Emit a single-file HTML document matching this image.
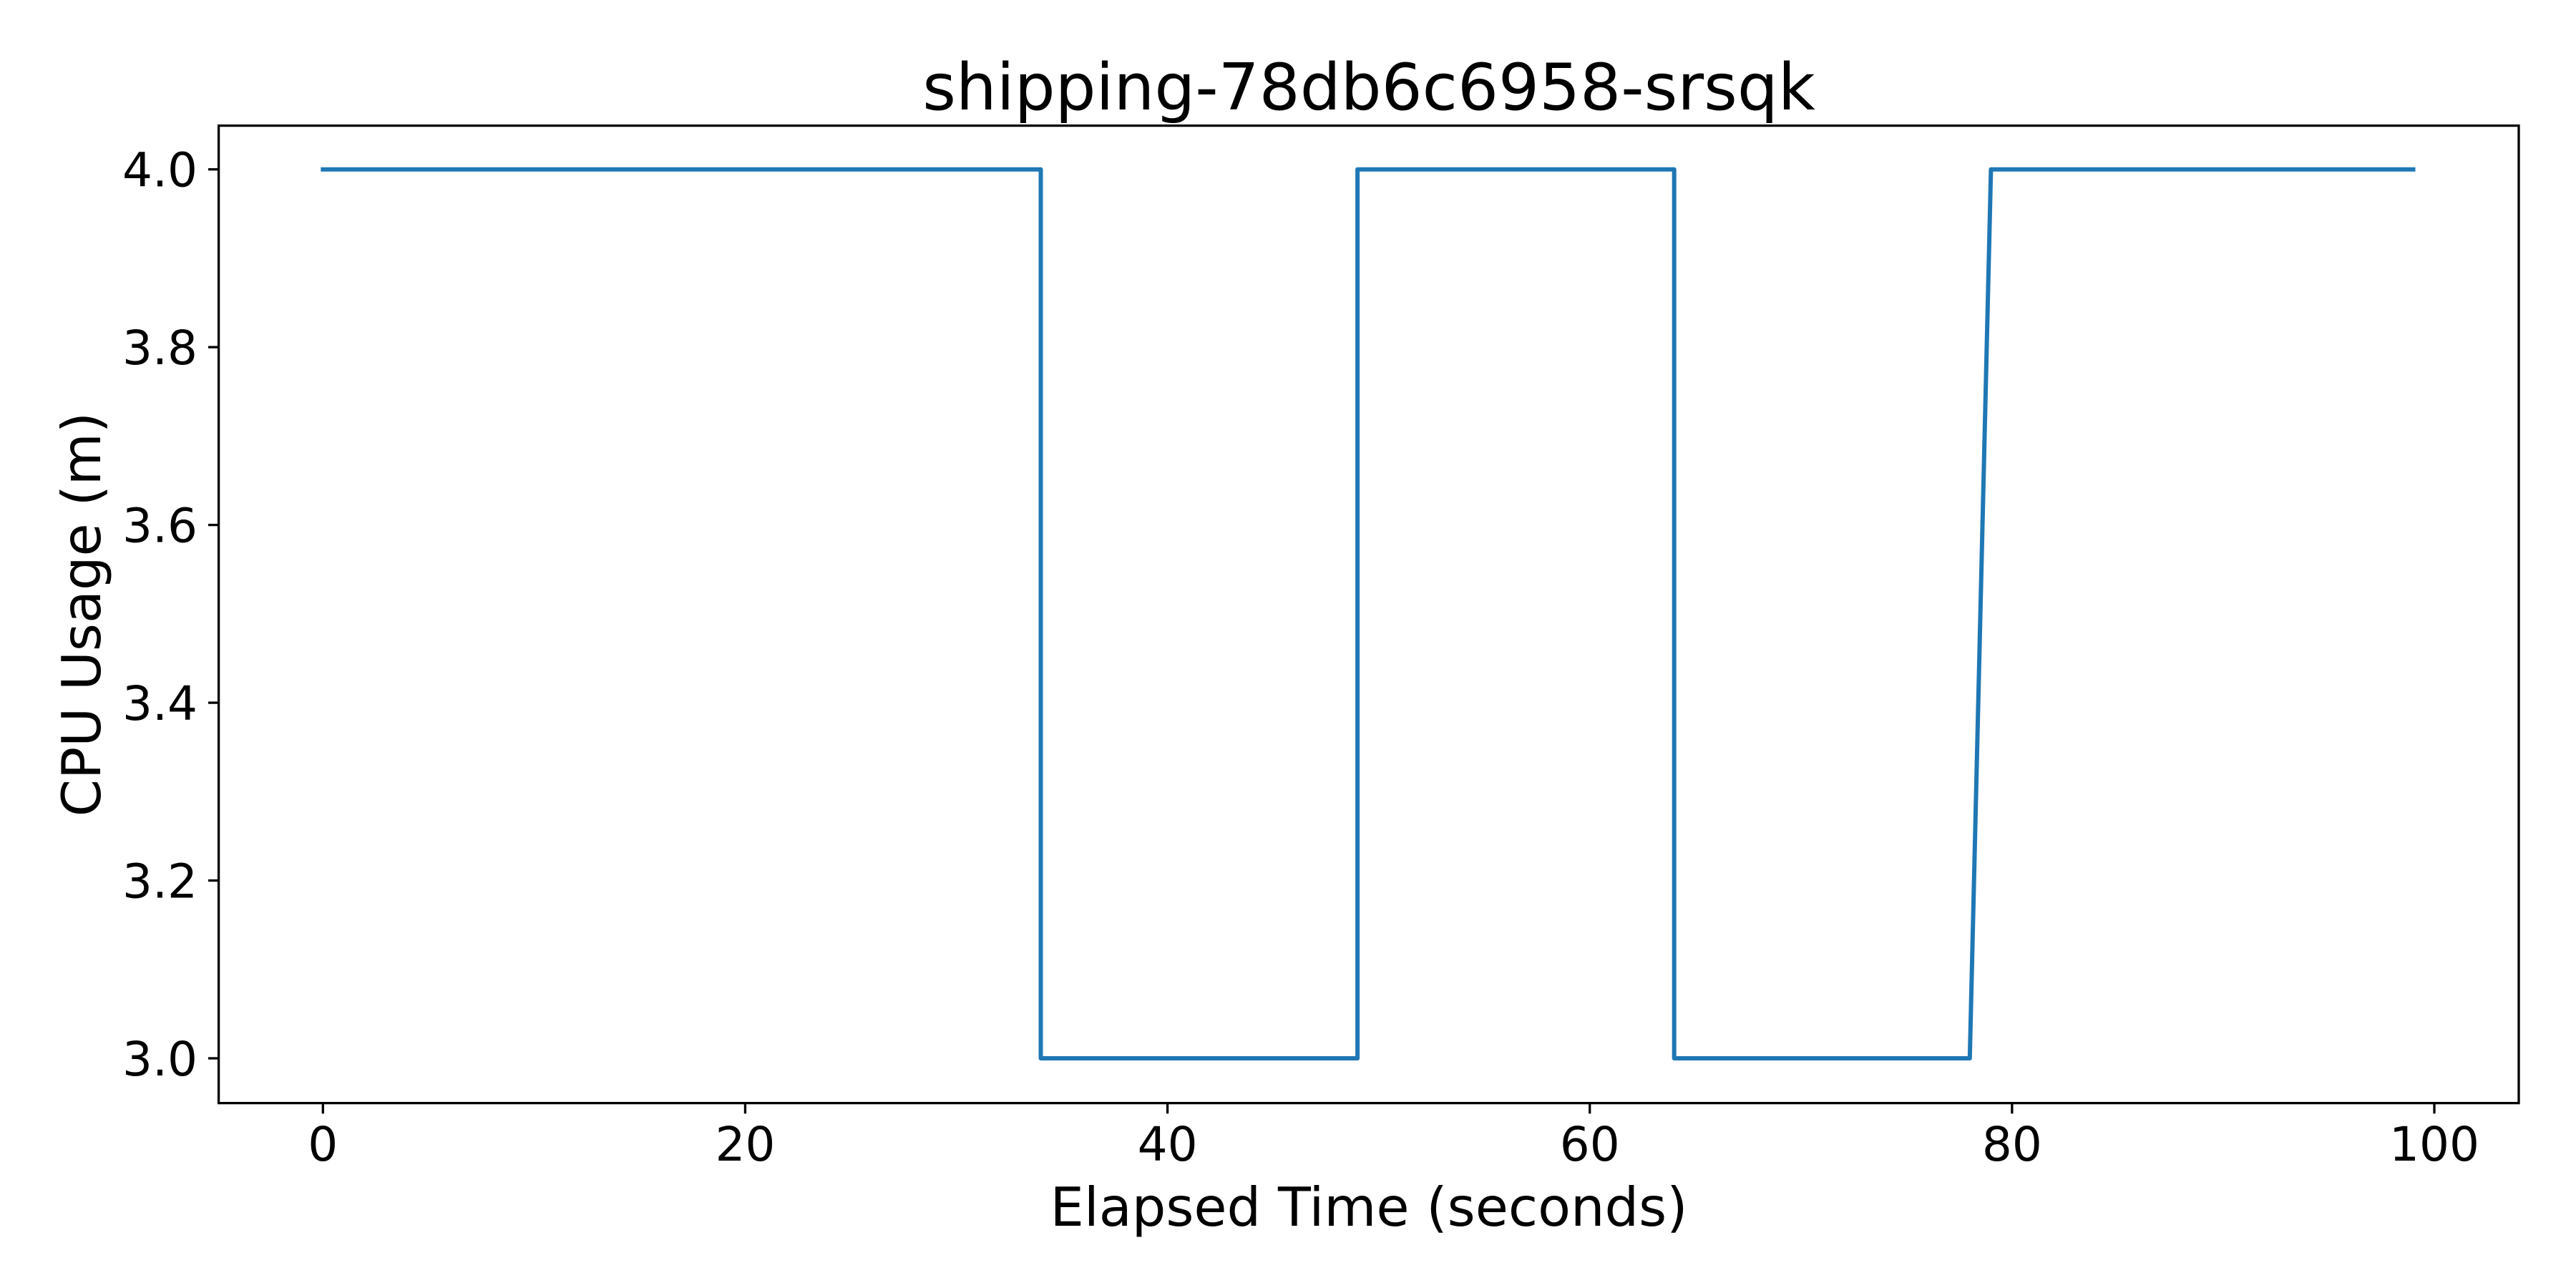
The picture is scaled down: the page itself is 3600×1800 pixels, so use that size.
<!DOCTYPE html>
<html><head><meta charset="utf-8"><style>html,body{margin:0;padding:0;background:#fff}svg{display:block}text{font-family:"DejaVu Sans","Liberation Sans",sans-serif;fill:#000}</style></head>
<body>
<svg id="chart" width="3600" height="1800" viewBox="0 0 3600 1800" xmlns="http://www.w3.org/2000/svg">
<rect width="3600" height="1800" fill="#fff"/>
<g id="ticks"></g>
<path id="series" fill="none" stroke="#1f77b4" stroke-width="6" stroke-linejoin="round" stroke-linecap="square"/>
<rect x="305.6" y="175.6" width="3214.4" height="1366" fill="none" stroke="#000" stroke-width="3.3"/>
<text x="1913" y="153" font-size="89.7" text-anchor="middle">shipping-78db6c6958-srsqk</text>
<text x="1913" y="1713" font-size="75" text-anchor="middle">Elapsed Time (seconds)</text>
<text x="0" y="0" font-size="75" text-anchor="middle" transform="translate(140,858.6) rotate(-90)">CPU Usage (m)</text>
</svg>
<script>
const times = [0, 34, 34, 49, 49, 64, 64, 78, 79, 99];
const values = [4, 4, 3, 3, 4, 4, 3, 3, 4, 4];
const xTicks = [0, 20, 40, 60, 80, 100];
const yTicks = [3.0, 3.2, 3.4, 3.6, 3.8, 4.0];
const yTickLabels = ["3.0", "3.2", "3.4", "3.6", "3.8", "4.0"];

const xs = v => 451.3 + (v - 0) * (3402 - 451.3) / 100;
const ys = v => 1479 - (v - 3) * (1479 - 236.7);
const NS = "http://www.w3.org/2000/svg";
const g = document.getElementById("ticks");
function mk(tag, attrs) { const e = document.createElementNS(NS, tag); for (const k in attrs) e.setAttribute(k, attrs[k]); g.appendChild(e); return e; }

xTicks.forEach(t => {
  const x = xs(t);
  const l = mk("line", {x1: x, x2: x, y1: 1541.7, y2: 1556.3, stroke: "#000", "stroke-width": 3.3});
  
  
  const tx = mk("text", {x: x, y: 1622, "font-size": 66, "text-anchor": "middle"});
  tx.textContent = String(t);
  
  
});
yTicks.forEach((t, i) => {
  const y = ys(t);
  const l = mk("line", {x1: 291, x2: 305.6, y1: y, y2: y, stroke: "#000", "stroke-width": 3.3});
  
  
  const tx = mk("text", {x: 276, y: y + 24, "font-size": 66, "text-anchor": "end"});
  tx.textContent = yTickLabels[i];
  
  
});
document.getElementById("series").setAttribute("d",
  times.map((t, i) => (i ? "L" : "M") + xs(t).toFixed(1) + " " + ys(values[i]).toFixed(1)).join(" "));
</script>
</body></html>
